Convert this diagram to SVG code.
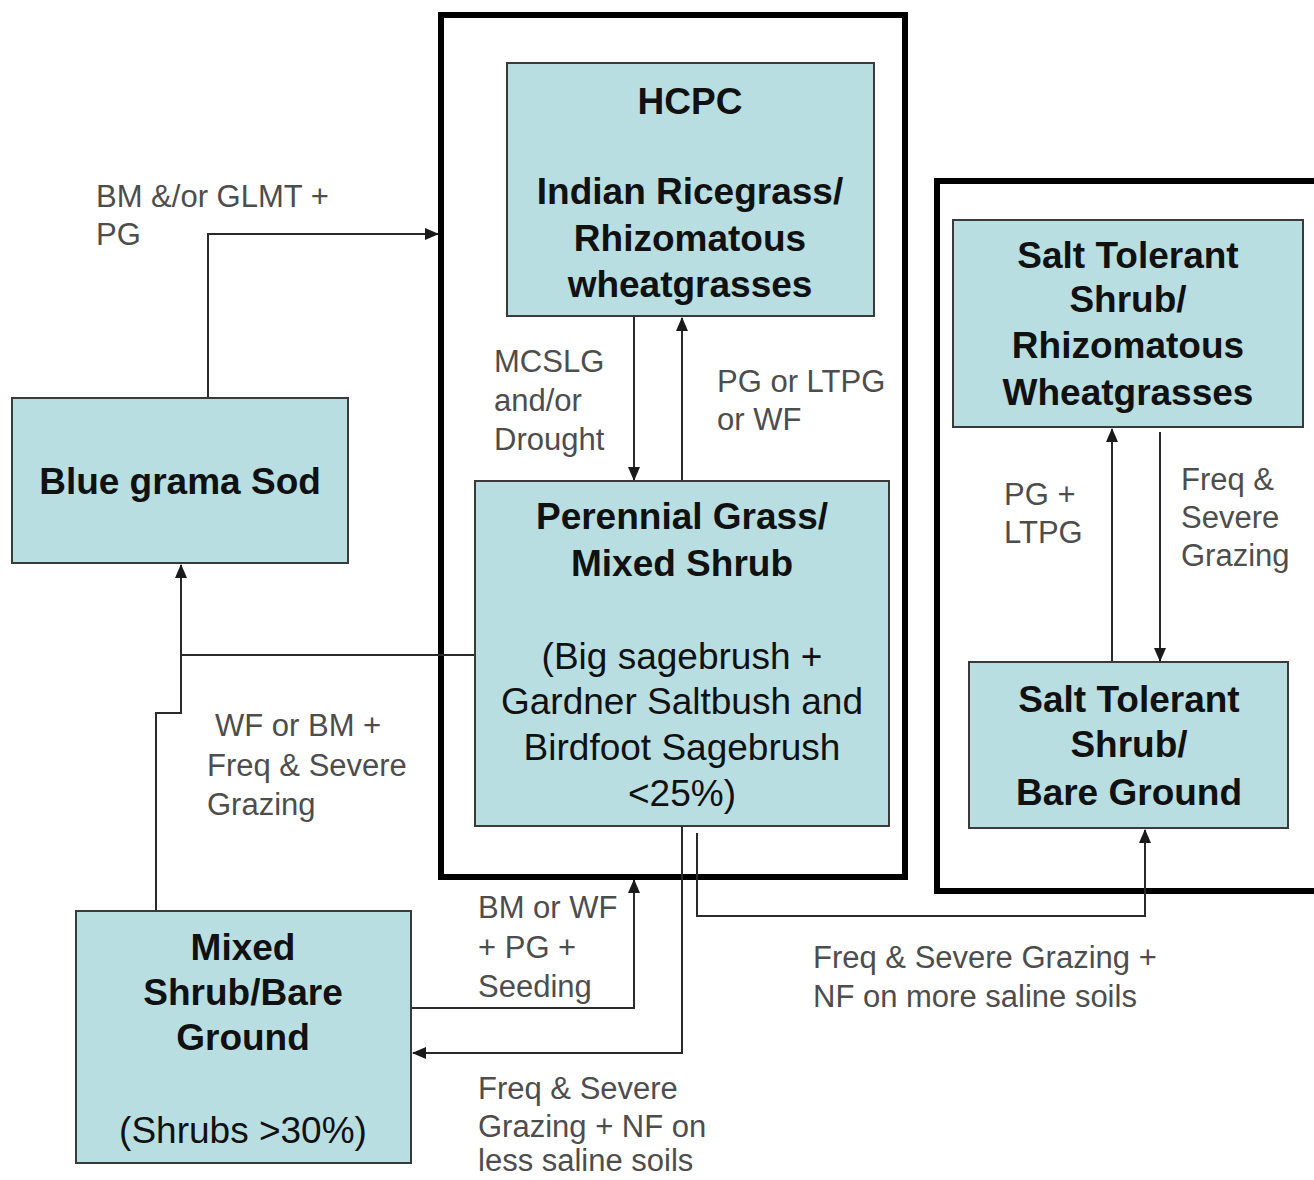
<svg xmlns="http://www.w3.org/2000/svg" width="1314" height="1180" viewBox="0 0 1314 1180">
<style>
.node{fill:#b8dee2;stroke:#3a3a3a;stroke-width:2}
.frame{fill:none;stroke:#000;stroke-width:6}
.b{font-family:"Liberation Sans",Arial,sans-serif;font-weight:bold;font-size:37px;fill:#111;text-anchor:middle}
.r{font-family:"Liberation Sans",Arial,sans-serif;font-size:37px;fill:#111;text-anchor:middle}
.lbl{font-family:"Liberation Sans",Arial,sans-serif;font-size:31px;fill:#4d4d4d}
.c{fill:none;stroke:#2a2a2a;stroke-width:2}
</style>
<defs>
<marker id="ah" markerWidth="14" markerHeight="12" refX="13" refY="6" orient="auto" markerUnits="userSpaceOnUse">
<path d="M0,0 L14,6 L0,12 z" fill="#1a1a1a"/>
</marker>
</defs>
<rect width="1314" height="1180" fill="#fff"/>
<g id="frames">
<rect class="frame" x="441" y="15" width="464" height="862"/>
<path class="frame" d="M1320,181 L937,181 L937,891 L1320,891"/>
</g>
<g id="connectors">
<path class="c" d="M208,398 V234 H438" marker-end="url(#ah)"/>
<path class="c" d="M634,317 V480" marker-end="url(#ah)"/>
<path class="c" d="M682,481 V318" marker-end="url(#ah)"/>
<path class="c" d="M475,655 H181 V565" marker-end="url(#ah)"/>
<path class="c" d="M156,911 V713 H181 V655"/>
<path class="c" d="M411,1008 H634 V880" marker-end="url(#ah)"/>
<path class="c" d="M682,826 V1053 H413" marker-end="url(#ah)"/>
<path class="c" d="M697,833 V916 H1145 V830" marker-end="url(#ah)"/>
<path class="c" d="M1160,432 V661" marker-end="url(#ah)"/>
<path class="c" d="M1112,662 V429" marker-end="url(#ah)"/>
</g>
<g id="hcpc">
<rect class="node" x="507" y="63" width="367" height="253"/>
<text class="b" x="690" y="114">HCPC</text>
<text class="b" x="690" y="204">Indian Ricegrass/</text>
<text class="b" x="690" y="251">Rhizomatous</text>
<text class="b" x="690" y="297">wheatgrasses</text>
</g>
<g id="perennial">
<rect class="node" x="475" y="481" width="414" height="345"/>
<text class="b" x="682" y="529">Perennial Grass/</text>
<text class="b" x="682" y="576">Mixed Shrub</text>
<text class="r" x="682" y="669">(Big sagebrush +</text>
<text class="r" x="682" y="714">Gardner Saltbush and</text>
<text class="r" x="682" y="760">Birdfoot Sagebrush</text>
<text class="r" x="682" y="806">&lt;25%)</text>
</g>
<g id="bluegrama">
<rect class="node" x="12" y="398" width="336" height="165"/>
<text class="b" x="180" y="494">Blue grama Sod</text>
</g>
<g id="mixedshrub">
<rect class="node" x="76" y="911" width="335" height="252"/>
<text class="b" x="243" y="960">Mixed</text>
<text class="b" x="243" y="1005">Shrub/Bare</text>
<text class="b" x="243" y="1050">Ground</text>
<text class="r" x="243" y="1143">(Shrubs &gt;30%)</text>
</g>
<g id="salttop">
<rect class="node" x="953" y="220" width="350" height="207"/>
<text class="b" x="1128" y="268">Salt Tolerant</text>
<text class="b" x="1128" y="312">Shrub/</text>
<text class="b" x="1128" y="358">Rhizomatous</text>
<text class="b" x="1128" y="405">Wheatgrasses</text>
</g>
<g id="saltbottom">
<rect class="node" x="969" y="662" width="319" height="166"/>
<text class="b" x="1129" y="712">Salt Tolerant</text>
<text class="b" x="1129" y="757">Shrub/</text>
<text class="b" x="1129" y="805">Bare Ground</text>
</g>
<g id="labels">
<text class="lbl" x="96" y="207">BM &amp;/or GLMT +</text>
<text class="lbl" x="96" y="245">PG</text>
<text class="lbl" x="494" y="372">MCSLG</text>
<text class="lbl" x="494" y="411">and/or</text>
<text class="lbl" x="494" y="450">Drought</text>
<text class="lbl" x="717" y="392">PG or LTPG</text>
<text class="lbl" x="717" y="430">or WF</text>
<text class="lbl" x="1004" y="505">PG +</text>
<text class="lbl" x="1004" y="543">LTPG</text>
<text class="lbl" x="1181" y="490">Freq &amp;</text>
<text class="lbl" x="1181" y="528">Severe</text>
<text class="lbl" x="1181" y="566">Grazing</text>
<text class="lbl" x="215" y="736">WF or BM +</text>
<text class="lbl" x="207" y="776">Freq &amp; Severe</text>
<text class="lbl" x="207" y="815">Grazing</text>
<text class="lbl" x="478" y="918">BM or WF</text>
<text class="lbl" x="478" y="958">+ PG +</text>
<text class="lbl" x="478" y="997">Seeding</text>
<text class="lbl" x="813" y="968">Freq &amp; Severe Grazing +</text>
<text class="lbl" x="813" y="1007">NF on more saline soils</text>
<text class="lbl" x="478" y="1099">Freq &amp; Severe</text>
<text class="lbl" x="478" y="1137">Grazing + NF on</text>
<text class="lbl" x="478" y="1171">less saline soils</text>
</g>
</svg>
